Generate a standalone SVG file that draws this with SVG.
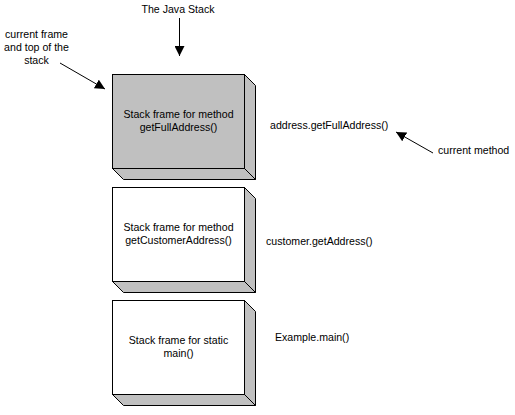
<svg xmlns="http://www.w3.org/2000/svg" width="515" height="415" viewBox="0 0 515 415">
<defs>
<style>
text{font-family:"Liberation Sans",Arial,sans-serif;font-size:10.6px;fill:#000}
.c{text-anchor:middle}
.side{fill:#C0C0C0;stroke:#000;stroke-width:1}
.front{stroke:#000;stroke-width:1}
.conn{stroke:#000;stroke-width:1;fill:none}
</style>
<marker id="ah" viewBox="0 0 10 10" refX="10" refY="5" markerWidth="10" markerHeight="10" markerUnits="userSpaceOnUse" orient="auto">
<path d="M0,0 L10,5 L0,10 Z" fill="#000"/>
</marker>
</defs>
<rect width="515" height="415" fill="#fff"/>

<g id="frame1">
<polygon class="side" points="244.5,74.5 255.5,85.5 255.5,179.5 244.5,168.5"/>
<polygon class="side" points="112.5,168.5 244.5,168.5 255.5,179.5 123.5,179.5"/>
<rect class="front" x="112.5" y="74.5" width="132" height="94" fill="#C0C0C0"/>
<text class="c" x="178.5" y="118">Stack frame for method</text>
<text class="c" x="178.5" y="131">getFullAddress()</text>
</g>

<g id="frame2">
<polygon class="side" points="244.5,187.5 255.5,198.5 255.5,292.5 244.5,281.5"/>
<polygon class="side" points="112.5,281.5 244.5,281.5 255.5,292.5 123.5,292.5"/>
<rect class="front" x="112.5" y="187.5" width="132" height="94" fill="#fff"/>
<text class="c" x="178.5" y="231">Stack frame for method</text>
<text class="c" x="178.5" y="244">getCustomerAddress()</text>
</g>

<g id="frame3">
<polygon class="side" points="244.5,300.5 255.5,311.5 255.5,405.5 244.5,394.5"/>
<polygon class="side" points="112.5,394.5 244.5,394.5 255.5,405.5 123.5,405.5"/>
<rect class="front" x="112.5" y="300.5" width="132" height="94" fill="#fff"/>
<text class="c" x="178.5" y="344">Stack frame for static</text>
<text class="c" x="178.5" y="357">main()</text>
</g>

<g id="labels">
<text class="c" x="178" y="13">The Java Stack</text>
<text class="c" x="36.5" y="38">current frame</text>
<text class="c" x="36.5" y="51">and top of the</text>
<text class="c" x="36.5" y="64">stack</text>
<text x="270" y="129">address.getFullAddress()</text>
<text x="438" y="154">current method</text>
<text x="266" y="245">customer.getAddress()</text>
<text x="275" y="341">Example.main()</text>
</g>

<g id="connectors">
<line class="conn" x1="179.5" y1="18" x2="179.5" y2="56" marker-end="url(#ah)"/>
<line class="conn" x1="60" y1="63" x2="105" y2="89" marker-end="url(#ah)"/>
<line class="conn" x1="433" y1="153" x2="396" y2="132" marker-end="url(#ah)"/>
</g>
</svg>
